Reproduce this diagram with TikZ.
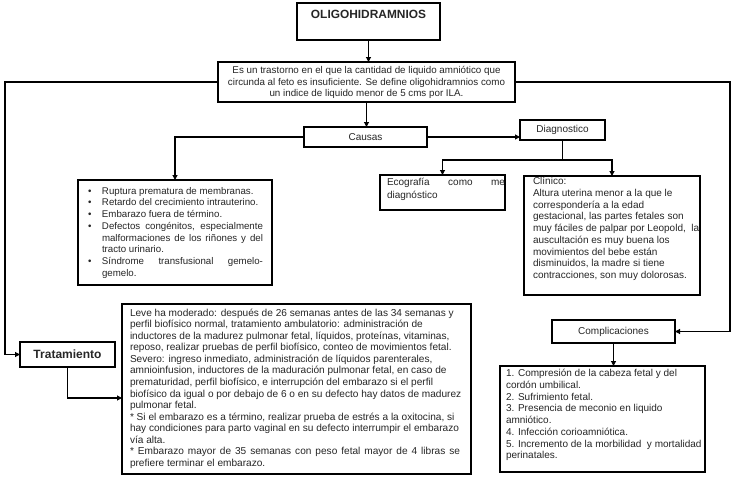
\documentclass[tikz,border=0pt]{standalone}
\usepackage{fontspec}
\setmainfont{Liberation Sans}
\usetikzlibrary{arrows.meta,calc}
\begin{document}
\begin{tikzpicture}[x=1pt,y=-1pt,
  box/.style={draw=black, line width=1.1pt, fill=white, inner sep=0pt, outer sep=0pt, anchor=north west, text=black!85},
  sbox/.style={box, align=center, font=\fontsize{10}{12}\selectfont},
  ln/.style={line width=1.1pt, draw=black},
  arr/.style={ln, -{Triangle[length=5pt,width=5pt]}}]
\useasboundingbox[fill=white] (0,0) rectangle (736,479);

% title
\node[box] (title) at (297,3) {\begin{minipage}[t][37pt][t]{143pt}\centering
  \fontsize{11.9}{14}\selectfont\bfseries\rule{0pt}{16pt}OLIGOHIDRAMNIOS\end{minipage}};

% definition
\node[box] (def) at (218,62) {\begin{minipage}[t][40pt][t]{297pt}\centering
  \fontsize{9.8}{11.5}\selectfont\rule{0pt}{11.5pt}Es un trastorno en el que la cantidad de liquido amniótico que\\
  circunda al feto es insuficiente. Se define oligohidramnios como\\
  un indice de liquido menor de 5 cms por ILA.\end{minipage}};

% causas / diagnostico
\node[sbox, minimum width=123pt, minimum height=20pt] (causas) at (304,127) {Causas};
\node[sbox, minimum width=85pt, minimum height=20pt] (diag) at (520,120) {Diagnostico};

% causes list
\node[box] (causeslist) at (78,180) {\begin{minipage}[t][105pt][t]{194pt}\raggedright
  \fontsize{9.7}{11.7}\selectfont\leftskip=10pt
  \rule{0pt}{14.2pt}\makebox[14pt][l]{•}Ruptura prematura de membranas.\\
  \makebox[14pt][l]{•}Retardo del crecimiento intrauterino.\\
  \makebox[14pt][l]{•}Embarazo fuera de término.\\
  \makebox[14pt][l]{•}\makebox[161pt][s]{Defectos congénitos, especialmente}\\
  \hspace*{14pt}\makebox[161pt][s]{malformaciones de los riñones y del}\\
  \hspace*{14pt}tracto urinario.\\
  \makebox[14pt][l]{•}\makebox[161pt][s]{Síndrome transfusional gemelo-}\\
  \hspace*{14pt}gemelo.\end{minipage}};

% ecografia
\node[box] (eco) at (380,175) {\begin{minipage}[t][35pt][t]{125pt}\raggedright
  \fontsize{10}{13.2}\selectfont\leftskip=7pt
  \rule{0pt}{10.2pt}\makebox[118pt][s]{Ecografía como me}\\
  diagnóstico\end{minipage}};

% clinico
\node[box] (clin) at (524,176) {\begin{minipage}[t][119pt][t]{176pt}\raggedright
  \fontsize{10}{11.75}\selectfont\leftskip=9pt
  \rule{0pt}{8.5pt}Clínico:\\
  Altura uterina menor a la que le\\
  correspondería a la edad\\
  gestacional, las partes fetales son\\
  muy fáciles de palpar por Leopold,\ \ la\\
  auscultación es muy buena los\\
  movimientos del bebe están\\
  disminuidos, la madre si tiene\\
  contracciones, son muy dolorosas.\end{minipage}};

% complicaciones
\node[sbox, minimum width=123pt, minimum height=23pt] (compl) at (552,320) {Complicaciones};
\node[box] (compllist) at (500,366) {\begin{minipage}[t][106pt][t]{205pt}\raggedright
  \fontsize{10}{11.75}\selectfont\leftskip=6pt
  \rule{0pt}{10.5pt}1. Compresión de la cabeza fetal y del\\
  cordón umbilical.\\
  2. Sufrimiento fetal.\\
  3. Presencia de meconio en liquido\\
  amniótico.\\
  4. Infección corioamniótica.\\
  5. Incremento de la morbilidad\ \ y mortalidad\\
  perinatales.\end{minipage}};

% tratamiento
\node[box, minimum width=95pt, minimum height=25pt, align=center, font=\fontsize{12}{14}\selectfont\bfseries] (trat) at (20,342) {Tratamiento};
\node[box] (tratlist) at (122,304) {\begin{minipage}[t][170pt][t]{349pt}\raggedright
  \fontsize{10.1}{11.55}\selectfont\leftskip=8pt
  \rule{0pt}{12.2pt}Leve ha moderado: después de 26 semanas antes de las 34 semanas y\\
  perfil biofísico normal, tratamiento ambulatorio: administración de\\
  inductores de la madurez pulmonar fetal, líquidos, proteínas, vitaminas,\\
  reposo, realizar pruebas de perfil biofísico, conteo de movimientos fetal.\\
  Severo: ingreso inmediato, administración de líquidos parenterales,\\
  amnioinfusion, inductores de la maduración pulmonar fetal, en caso de\\
  prematuridad, perfil biofísico, e interrupción del embarazo si el perfil\\
  biofísico da igual o por debajo de 6 o en su defecto hay datos de madurez\\
  pulmonar fetal.\\
  \relax * Si el embarazo es a término, realizar prueba de estrés a la oxitocina, si\\
  hay condiciones para parto vaginal en su defecto interrumpir el embarazo\\
  vía alta.\\
  \relax\makebox[330pt][s]{* Embarazo mayor de 35 semanas con peso fetal mayor de 4 libras se}\\
  prefiere terminar el embarazo.\end{minipage}};

% coordinates for bends
\coordinate (lft) at (5,0);
\coordinate (rgt) at (730,0);
\coordinate (dj) at (0,160);
\coordinate (tj) at (0,398);

% connectors
\draw[arr] (title.south) -- (title.south |- def.north);
\draw[arr] (def.south) -- (def.south |- causas.north);
\draw[arr] (causas.west) -| (causeslist.north);
\draw[arr] (causas.east) -- (causas.east -| diag.west);
\draw[ln] (diag.south) -- (diag.south |- dj);
\draw[arr] (diag.south |- dj) -| (eco.north);
\draw[arr] (diag.south |- dj) -| (clin.north);
\draw[arr] (def.west) -- (def.west -| lft) |- (trat.west);
\draw[arr] (def.east) -- (def.east -| rgt) |- (compl.east);
\draw[arr] (compl.south) -- (compl.south |- compllist.north);
\draw[arr] (trat.south) |- (tratlist.west |- tj);
\end{tikzpicture}
\end{document}
